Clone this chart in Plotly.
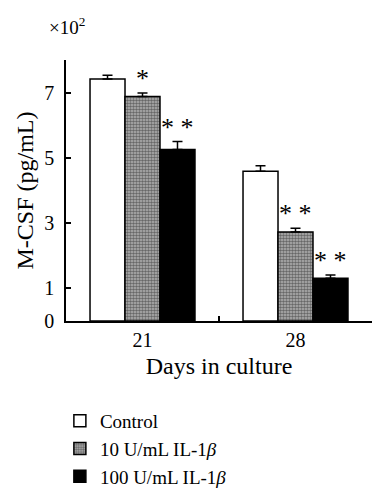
import plotly.graph_objects as go

days = ["21", "28"]
series_names = ["Control", "10 U/mL IL-1<i>β</i>", "100 U/mL IL-1<i>β</i>"]
values = [
    [7.42, 4.59],   # Control
    [6.88, 2.73],   # 10 U/mL
    [5.26, 1.31],   # 100 U/mL
]
errors = [
    [0.11, 0.17],
    [0.11, 0.11],
    [0.24, 0.10],
]
stars = [
    ["", ""],
    ["*", "* *"],
    ["* *", "* *"],
]
y_tickvals = [0, 1, 3, 5, 7]
y_ticktext = ["0", "1", "3", "5", "7"]

FONT = "Liberation Serif"
fills = [
    dict(color="white"),
    dict(color="#b4b4b4", pattern=dict(shape=".", fgcolor="#1a1a1a", bgcolor="#b4b4b4",
                                       size=3, solidity=0.55)),
    dict(color="black"),
]

fig = go.Figure()
for i, name in enumerate(series_names):
    m = dict(fills[i])
    m["line"] = dict(color="black", width=1.5)
    fig.add_trace(go.Bar(
        x=days, y=values[i], name=name, marker=m,
        error_y=dict(type="data", symmetric=False, array=errors[i],
                     arrayminus=[0] * len(days), color="black",
                     thickness=1.5, width=5),
    ))

# significance stars (x given as category index on the category axis)
offsets = [-35, 0, 35]
for i in range(len(series_names)):
    for j, d in enumerate(days):
        if stars[i][j]:
            fig.add_annotation(
                x=j, y=values[i][j] + errors[i][j], text=stars[i][j],
                xref="x", yref="y", showarrow=False, xanchor="center",
                yanchor="bottom", xshift=offsets[i], yshift=-2,
                font=dict(family=FONT, size=26, color="black"))

fig.add_annotation(text="×10<sup>2</sup>", xref="paper", yref="paper",
                   x=0.003, y=1.13, xanchor="center", yanchor="middle",
                   showarrow=False, font=dict(family=FONT, size=19, color="black"))

fig.update_layout(
    width=380, height=500,
    margin=dict(l=58, r=16, t=52, b=181),
    paper_bgcolor="white", plot_bgcolor="white",
    barmode="group", bargap=0.314, bargroupgap=0,
    font=dict(family=FONT, size=20, color="black"),
    showlegend=True,
    legend=dict(x=-0.02, y=-0.31, xanchor="left", yanchor="top",
                font=dict(size=19), bgcolor="rgba(0,0,0,0)", tracegroupgap=0),
    xaxis=dict(type="category", range=[-0.5, len(days) - 0.5], automargin=False,
               showline=True, linecolor="black", linewidth=1.5,
               ticks="inside", tickson="boundaries", ticklen=5,
               tickcolor="black", tickwidth=1.5, showgrid=False,
               title=dict(text="Days in culture", standoff=7)),
    yaxis=dict(range=[0, 8], automargin=False, showline=True, linecolor="black",
               linewidth=1.5, ticks="inside", ticklen=5, tickcolor="black",
               tickwidth=1.5, ticklabelstandoff=6,
               tickvals=y_tickvals, ticktext=y_ticktext, showgrid=False,
               zeroline=False,
               minor=dict(tickvals=[8], ticks="inside", ticklen=5,
                          tickcolor="black", tickwidth=1.5, showgrid=False),
               title=dict(text="M-CSF (pg/mL)", standoff=4)),
)

fig.write_html("out.html")
